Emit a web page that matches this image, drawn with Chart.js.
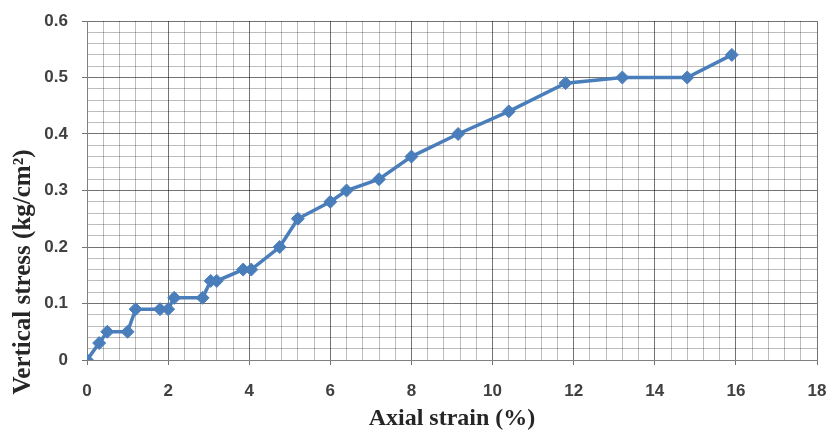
<!DOCTYPE html>
<html lang="en">
<head>
    <meta charset="UTF-8">
    <title>Vertical stress vs axial strain</title>
    <script src="https://cdn.jsdelivr.net/npm/chart.js"></script>
    <style>
        html, body {
            margin: 0;
            padding: 0;
            background: #ffffff;
        }
        .chart-box {
            width: 830px;
            height: 438px;
        }
    </style>
</head>
<body>
    <div class="chart-box">
        <canvas id="stressChart"></canvas>
    </div>

    <script>
const strain = [0, 0.3, 0.5, 1.0, 1.2, 1.8, 2.0, 2.15, 2.85, 3.05, 3.2, 3.85, 4.05, 4.75, 5.2, 6.0, 6.4, 7.2, 8.0, 9.15, 10.4, 11.8, 13.2, 14.8, 15.9];
const stress = [0, 0.03, 0.05, 0.05, 0.09, 0.09, 0.09, 0.11, 0.11, 0.14, 0.14, 0.16, 0.16, 0.20, 0.25, 0.28, 0.30, 0.32, 0.36, 0.40, 0.44, 0.49, 0.50, 0.50, 0.54];
const xTicks = [0, 2, 4, 6, 8, 10, 12, 14, 16, 18];
const yTicks = [0, 0.1, 0.2, 0.3, 0.4, 0.5, 0.6];

const blue = '#4a7ebb';
const majorGrid = 'rgba(0, 0, 0, 0.55)';
const minorGrid = 'rgba(0, 0, 0, 0.26)';

function isMajor(value, list) {
    return list.some(t => Math.abs(t - value) < 1e-6);
}

// y title sits lower than the plot centre in the original, so it is drawn by hand
const yTitlePlugin = {
    id: 'yTitle',
    afterDraw(chart) {
        const ctx = chart.ctx;
        ctx.save();
        ctx.translate(24, 272);
        ctx.rotate(-Math.PI / 2);
        ctx.font = 'bold 25px "Liberation Serif", "DejaVu Serif", serif';
        ctx.fillStyle = '#262626';
        ctx.textAlign = 'center';
        ctx.textBaseline = 'middle';
        ctx.fillText('Vertical stress (kg/cm\u00B2)', 0, 0);
        ctx.restore();
    }
};

const ctx = document.getElementById('stressChart').getContext('2d');
new Chart(ctx, {
    type: 'line',
    data: {
        datasets: [{
            label: 'Vertical stress',
            data: strain.map((x, i) => ({ x: x, y: stress[i] })),
            borderColor: blue,
            backgroundColor: blue,
            borderWidth: 3.5,
            pointStyle: 'rectRot',
            pointRadius: 6.5,
            pointBorderWidth: 1,
            tension: 0,
            fill: false
        }]
    },
    options: {
        responsive: true,
        maintainAspectRatio: false,
        animation: false,
        layout: {
            padding: { top: 21, right: 13, left: 0, bottom: 0 }
        },
        plugins: {
            legend: { display: false },
            tooltip: { enabled: false }
        },
        scales: {
            x: {
                type: 'linear',
                min: 0,
                max: 18,
                afterFit: scale => {
                    scale.height = 78;
                    scale.paddingLeft = 0;
                    scale.paddingRight = 0;
                },
                ticks: {
                    stepSize: 0.4,
                    autoSkip: false,
                    maxRotation: 0,
                    padding: 16,
                    color: '#404040',
                    font: { family: 'Liberation Sans', size: 17, weight: 'bold' },
                    callback: v => isMajor(v, xTicks) ? String(Math.round(v)) : ''
                },
                grid: {
                    color: c => isMajor(c.tick.value, xTicks) ? majorGrid : minorGrid,
                    tickColor: c => isMajor(c.tick.value, xTicks) ? majorGrid : 'rgba(0,0,0,0)',
                    tickLength: 5,
                    lineWidth: 1
                },
                border: { color: '#808080' },
                title: {
                    display: true,
                    text: 'Axial strain (%)',
                    color: '#262626',
                    font: { family: 'Liberation Serif', size: 24, weight: 'bold' },
                    padding: { top: 0, bottom: 5 }
                }
            },
            y: {
                type: 'linear',
                min: 0,
                max: 0.6,
                afterFit: scale => {
                    scale.width = 87;
                    scale.paddingTop = 0;
                    scale.paddingBottom = 0;
                },
                ticks: {
                    stepSize: 0.02,
                    autoSkip: false,
                    padding: 14,
                    color: '#404040',
                    font: { family: 'Liberation Sans', size: 17, weight: 'bold' },
                    callback: v => isMajor(v, yTicks) ? (Math.round(v * 10) / 10).toString() : ''
                },
                grid: {
                    color: c => isMajor(c.tick.value, yTicks) ? majorGrid : minorGrid,
                    tickColor: c => isMajor(c.tick.value, yTicks) ? majorGrid : 'rgba(0,0,0,0)',
                    tickLength: 5,
                    lineWidth: 1
                },
                border: { color: '#808080' }
            }
        }
    },
    plugins: [yTitlePlugin]
});
    </script>
</body>
</html>
